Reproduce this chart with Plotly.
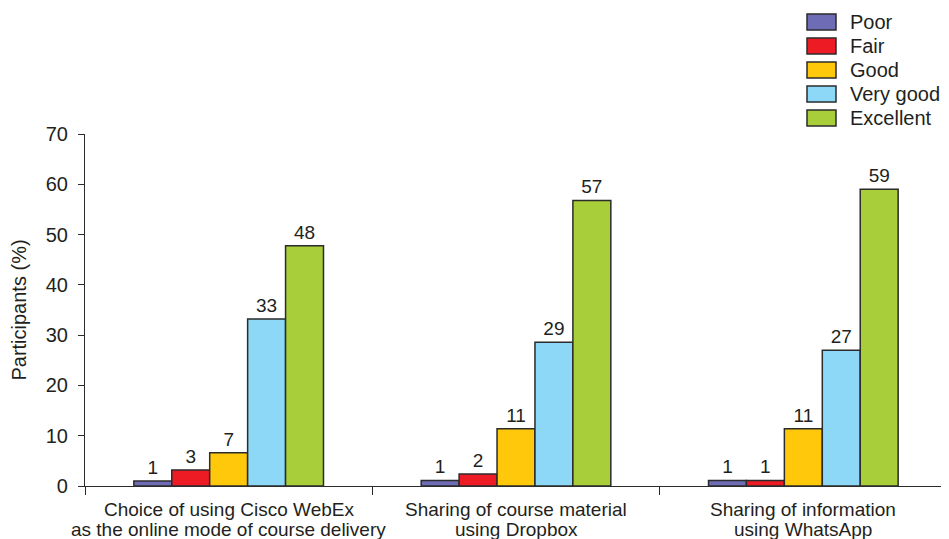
import plotly.graph_objects as go

categories = [
    "Choice of using Cisco WebEx<br>as the online mode of course delivery",
    "Sharing of course material<br>using Dropbox",
    "Sharing of information<br>using WhatsApp",
]
series_names = ["Poor", "Fair", "Good", "Very good", "Excellent"]
poor = [1.0, 1.1, 1.1]
fair = [3.2, 2.4, 1.1]
good = [6.6, 11.4, 11.4]
very_good = [33.2, 28.6, 27.0]
excellent = [47.8, 56.8, 59.0]
label_poor = [1, 1, 1]
label_fair = [3, 2, 1]
label_good = [7, 11, 11]
label_very_good = [33, 29, 27]
label_excellent = [48, 57, 59]

values = [poor, fair, good, very_good, excellent]
labels = [label_poor, label_fair, label_good, label_very_good, label_excellent]
colors = ["#6E6CB4", "#ED1C24", "#FFC80B", "#8DD8F6", "#A8CF3A"]

FONT = "Liberation Sans, Arial, Helvetica, sans-serif"
TXT = "#231F20"
EDGE = "#2B2B2B"

# page pixel geometry (figure is drawn inside an 8px body margin)
PX_L, PX_R, PX_T, PX_B = 85, 947, 134, 486
PW, PH = PX_R - PX_L, PX_B - PX_T


def paper_x(px):
    return (px - PX_L) / PW


def paper_y(py):
    return (PX_B - py) / PH


fig = go.Figure()
for name, vals, labs, col in zip(series_names, values, labels, colors):
    fig.add_trace(go.Bar(
        name=name, x=categories, y=vals,
        text=[str(v) for v in labs], textposition="outside",
        textfont=dict(size=19, color=TXT, family=FONT),
        marker=dict(color=col, line=dict(color=EDGE, width=1.5)),
        cliponaxis=False, showlegend=False,
    ))

# legend drawn as boxes + text
shapes = []
annotations = []
for i, (name, col) in enumerate(zip(series_names, colors)):
    cy = 22 + 24 * i
    shapes.append(dict(
        type="rect", xref="paper", yref="paper",
        x0=paper_x(807), x1=paper_x(836), y0=paper_y(cy + 8), y1=paper_y(cy - 8),
        fillcolor=col, line=dict(color=EDGE, width=1.5),
    ))
    annotations.append(dict(
        text=name, xref="paper", yref="paper", x=paper_x(848), y=paper_y(cy),
        xanchor="left", yanchor="middle", showarrow=False,
        font=dict(size=20, color=TXT, family=FONT),
    ))

# category labels (two lines each, tight spacing)
for cat in categories:
    lines = cat.split("<br>")
    for j, line in enumerate(lines):
        annotations.append(dict(
            text=line, xref="x", yref="paper", x=cat, y=paper_y(509 + 20 * j),
            xanchor="center", yanchor="middle", showarrow=False,
            font=dict(size=19, color=TXT, family=FONT),
        ))

fig.update_layout(
    width=941, height=531,
    barmode="group", bargap=0.34, bargroupgap=0,
    paper_bgcolor="white", plot_bgcolor="white",
    margin=dict(l=PX_L - 8, r=941 - (PX_R - 8), t=PX_T - 8, b=531 - (PX_B - 8)),
    font=dict(family=FONT, color=TXT, size=16),
    showlegend=False,
    shapes=shapes,
    annotations=annotations,
)
fig.update_xaxes(
    range=[-0.5, len(categories) - 0.5], autorange=False,
    showline=True, linecolor=EDGE, linewidth=1.2,
    ticks="outside", tickson="boundaries", ticklen=8, tickcolor=EDGE,
    showticklabels=False, showgrid=False,
)
fig.update_yaxes(
    range=[0, 70], dtick=10, showline=True, linecolor=EDGE, linewidth=1.2,
    ticks="outside", ticklen=6, tickcolor=EDGE, ticklabelstandoff=6,
    tickfont=dict(size=20, color=TXT, family=FONT),
    showgrid=False, zeroline=False,
    title=dict(text="Participants (%)", font=dict(size=20, color=TXT, family=FONT), standoff=14),
)

fig.write_html("out.html")
